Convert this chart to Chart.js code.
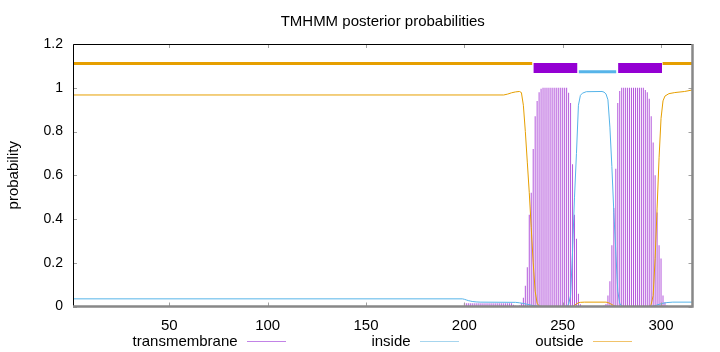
<!DOCTYPE html>
<html>
<head>
<meta charset="utf-8">
<script src="https://cdn.jsdelivr.net/npm/chart.js@4/dist/chart.umd.min.js"></script>
<style>
  html, body { margin: 0; padding: 0; background: #fff; }
  #wrap { position: relative; width: 720px; height: 352px; font-family: 'Liberation Sans', Arial, sans-serif; }
  .lg-text { position: absolute; width: 200px; text-align: right; font-size: 15px; line-height: 18px; color: #000; }
  .lg-line { position: absolute; height: 1px; }
</style>
</head>
<body>
<div id="wrap">
  <canvas id="chart" width="720" height="352"></canvas>
</div>
<script>
const seqLength = 316
const xTicks = [50, 100, 150, 200, 250, 300]
const yTicks = [0, 0.2, 0.4, 0.6, 0.8, 1, 1.2]
const seriesNames = ['transmembrane', 'inside', 'outside']

// transmembrane posterior, one value per residue from tmStart on
const tmStart = 200
const tmProb = [
  0.015, 0.015, 0.015, 0.015, 0.015, 0.015, 0.015, 0.015, 0.015, 0.015,
  0.015, 0.015, 0.015, 0.015, 0.015, 0.015, 0.015, 0.015, 0.015, 0.015,
  0.015, 0.015, 0.015, 0.015, 0.015,
  0.008, 0.004, 0.002, 0.005, 0.015, 0.04, 0.095, 0.18, 0.42, 0.52,
  0.72, 0.87, 0.94, 0.98, 0.995,
  1, 1, 1, 1, 1, 1, 1, 1, 1, 1, 1, 1, 1,
  0.977, 0.93, 0.65, 0.42, 0.31, 0.058, 0.01,
  0, 0, 0, 0, 0, 0, 0, 0, 0, 0, 0,
  0.005, 0.012, 0.05, 0.115, 0.28, 0.45, 0.63, 0.93, 0.985,
  1, 1, 1, 1, 1, 1, 1, 1, 1, 1, 1, 1,
  0.99, 0.98, 0.95, 0.87, 0.75, 0.6, 0.43, 0.28, 0.22, 0.05, 0.02, 0.005
]

// inside posterior (residue, probability)
const insideRes = [1, 199, 200, 201, 202, 203, 204, 206, 208, 226, 228, 230, 232, 234, 236, 238, 240,
  251, 252, 253, 254, 255, 256, 257, 258, 259, 260, 262, 270, 271, 272, 273, 274, 275, 276, 277, 278,
  279, 280, 281, 295, 297, 299, 301, 303, 306, 316]
const insideProb = [0.035, 0.035, 0.033, 0.03, 0.027, 0.025, 0.023, 0.021, 0.02, 0.019, 0.017, 0.014, 0.01, 0.006, 0.003, 0.001, 0,
  0, 0.002, 0.01, 0.05, 0.25, 0.5, 0.7, 0.92, 0.965, 0.975, 0.982, 0.983, 0.98, 0.972, 0.945, 0.82, 0.64, 0.43, 0.25, 0.07,
  0.015, 0.002, 0, 0, 0.004, 0.01, 0.015, 0.018, 0.02, 0.02]

// outside posterior (residue, probability)
const outsideRes = [1, 220, 222, 224, 226, 228, 229, 230, 231, 232, 233, 234, 235, 236, 237, 238, 239,
  255, 256, 257, 258, 259, 261, 272, 273, 274, 275, 276, 277, 278, 294, 295, 296, 297, 298, 299, 300,
  301, 302, 304, 307, 312, 316]
const outsideProb = [0.967, 0.967, 0.971, 0.977, 0.981, 0.983, 0.978, 0.92, 0.8, 0.66, 0.52, 0.36, 0.2, 0.07, 0.015, 0.002, 0,
  0, 0.005, 0.012, 0.017, 0.019, 0.02, 0.02, 0.018, 0.014, 0.009, 0.004, 0.001, 0, 0, 0.01, 0.05, 0.22, 0.45, 0.68, 0.86,
  0.94, 0.962, 0.973, 0.978, 0.983, 0.99]

// predicted topology drawn above the curves
const outsideSpans = [[1, 234.5], [300.8, 316]]
const tmSpans = [[235.2, 257.4], [278.2, 300.5]]
const insideSpans = [[258.2, 277.2]]

const purple = '#b458dc'
const blue = '#56b4e9'
const orange = '#e69f00'
const font = "'Liberation Sans', Arial, sans-serif"

const pts = (xs, ys) => xs.map((x, i) => ({ x, y: ys[i] }))
const spans = (list, level) => list.flatMap(([a, b]) => [{ x: a, y: level }, { x: b, y: level }, { x: b, y: null }])

const framePlugin = {
  id: 'frame',
  afterDatasetsDraw(chart) {
    const { ctx, chartArea: a, scales: { x, y } } = chart
    ctx.save()
    ctx.strokeStyle = '#a0a0a0'
    ctx.lineWidth = 1
    ctx.beginPath()
    xTicks.forEach(v => {
      const px = Math.round(x.getPixelForValue(v)) + 0.5
      ctx.moveTo(px, a.bottom); ctx.lineTo(px, a.bottom - 4)
      ctx.moveTo(px, a.top); ctx.lineTo(px, a.top + 4)
    })
    yTicks.forEach(v => {
      const py = Math.round(y.getPixelForValue(v)) + 0.5
      ctx.moveTo(a.left, py); ctx.lineTo(a.left + 4, py)
      ctx.moveTo(a.right, py); ctx.lineTo(a.right - 4, py)
    })
    ctx.stroke()
    ctx.strokeStyle = '#000'
    ctx.beginPath()
    ctx.moveTo(a.left + 0.5, a.bottom); ctx.lineTo(a.left + 0.5, a.top + 0.5); ctx.lineTo(a.right, a.top + 0.5)
    ctx.stroke()
    ctx.strokeStyle = '#888'
    ctx.lineWidth = 2.5
    ctx.beginPath()
    ctx.moveTo(a.left, a.bottom); ctx.lineTo(a.right, a.bottom); ctx.lineTo(a.right, a.top)
    ctx.stroke()
    ctx.restore()
  }
}

const chart = new Chart(document.getElementById('chart').getContext('2d'), {
  type: 'line',
  data: {
    datasets: [
      {
        label: 'outside region',
        data: spans(outsideSpans, 1.111),
        borderColor: orange,
        borderWidth: 3,
        borderCapStyle: 'butt',
        pointRadius: 0,
        spanGaps: false,
        order: 0
      },
      {
        label: 'TM region',
        data: spans(tmSpans, 1.09),
        borderColor: '#9400d3',
        borderWidth: 10,
        borderCapStyle: 'butt',
        pointRadius: 0,
        spanGaps: false,
        order: 0
      },
      {
        label: 'inside region',
        data: spans(insideSpans, 1.073),
        borderColor: blue,
        borderWidth: 3,
        borderCapStyle: 'butt',
        pointRadius: 0,
        spanGaps: false,
        order: 0
      },
      {
        label: seriesNames[1],
        data: pts(insideRes, insideProb),
        borderColor: blue,
        borderWidth: 1,
        pointRadius: 0,
        tension: 0,
        order: 1
      },
      {
        label: seriesNames[2],
        data: pts(outsideRes, outsideProb),
        borderColor: orange,
        borderWidth: 1,
        pointRadius: 0,
        tension: 0,
        order: 1
      },
      {
        type: 'bar',
        label: seriesNames[0],
        data: tmProb.map((p, i) => ({ x: tmStart + i, y: p })),
        backgroundColor: purple,
        barThickness: 1,
        inflateAmount: 0,
        order: 5
      }
    ]
  },
  options: {
    responsive: false,
    animation: false,
    layout: { padding: { left: 0, right: 27.5, top: 0, bottom: 0 } },
    plugins: {
      legend: { display: false },
      tooltip: { enabled: false },
      title: {
        display: true,
        fullSize: false,
        text: 'TMHMM posterior probabilities',
        color: '#000',
        font: { family: font, size: 15, weight: 'normal' },
        padding: { top: 12.5, bottom: 13.5 }
      }
    },
    scales: {
      x: {
        type: 'linear',
        min: 1,
        max: seqLength,
        offset: false,
        afterBuildTicks: s => { s.ticks = xTicks.map(v => ({ value: v })) },
        afterFit: s => { s.height = 45.5 },
        grid: { display: false, drawTicks: false, offset: false },
        border: { display: false },
        ticks: { color: '#000', font: { family: font, size: 15 }, padding: 10.5, maxRotation: 0, autoSkip: false }
      },
      y: {
        min: 0,
        max: 1.2,
        afterBuildTicks: s => { s.ticks = yTicks.map(v => ({ value: v })) },
        afterFit: s => { s.width = 73 },
        grid: { display: false, drawTicks: false },
        border: { display: false },
        title: {
          display: true,
          text: 'probability',
          color: '#000',
          font: { family: font, size: 15 },
          padding: { top: 5, bottom: 0 }
        },
        ticks: {
          color: '#000',
          font: { family: font, size: 14 },
          padding: 10,
          callback: v => String(+v.toFixed(1))
        }
      }
    }
  },
  plugins: [framePlugin]
})

// gnuplot style key: name, then a short line sample
const legendColors = ['#c283e6', '#a6d5ee', '#f1c36a']
const wrap = document.getElementById('wrap')
seriesNames.forEach((name, i) => {
  const right = 237.6 + i * 173
  const t = document.createElement('div')
  t.className = 'lg-text'
  t.textContent = name
  t.style.left = (right - 200) + 'px'
  t.style.top = '332px'
  wrap.appendChild(t)
  const l = document.createElement('div')
  l.className = 'lg-line'
  l.style.left = (right + 9.5) + 'px'
  l.style.width = '38.5px'
  l.style.top = '341px'
  l.style.background = legendColors[i]
  wrap.appendChild(l)
})
</script>
</body>
</html>
